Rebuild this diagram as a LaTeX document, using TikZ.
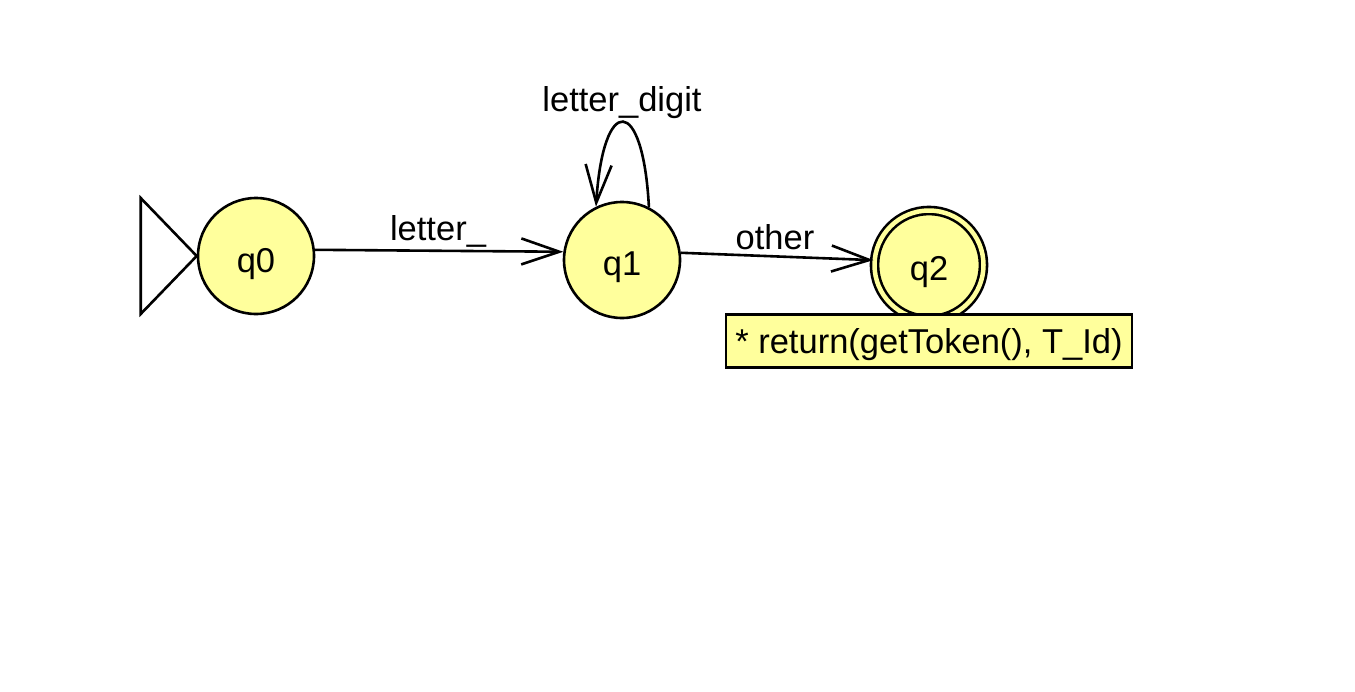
\documentclass[tikz,border=0pt]{standalone}
\usepackage{fontspec}
\setmainfont{Liberation Sans}
\usetikzlibrary{arrows.meta}
\definecolor{stfill}{RGB}{255,255,156}
\newcommand{\dn}[2]{\raisebox{-#1pt}[0pt][0pt]{#2}}
\begin{document}
\begin{tikzpicture}[x=1pt,y=-1pt,
  every node/.style={font=\fontsize{34.5}{40}\selectfont},
  state/.style={circle,draw=black,line width=2.6pt,fill=stfill,minimum size=116pt,inner sep=0pt},
  accepting/.style={double distance=4.5pt,double=stfill,line width=2.6pt,minimum size=109pt},
  edge/.style={line width=2.6pt,-{Straight Barb[length=38pt,width=26pt,line width=2.6pt]}},
  lbl/.style={inner sep=0pt},
  notebox/.style={draw=black,line width=2.6pt,fill=stfill,minimum width=406pt,minimum height=53pt,inner sep=0pt}]
\useasboundingbox (0,0) rectangle (1355,691);
\node[state] (q0) at (256,256) {\dn{16}{q0}};
\node[state] (q1) at (622,260) {\dn{15}{q1}};
\node[state,accepting] (q2) at (929,265) {\dn{15}{q2}};
\node[notebox] (note) at (929,341) {\dn{12}{* return(getToken(), T\_Id)}};
\draw[line width=2.6pt,line join=miter] (q0.west) -- ++(-56,-58) coordinate (ta) -- ++(0,116) coordinate (tb) -- cycle;
\draw[edge] (q0.6) -- (q1.172);
\node[lbl] (l1) at (438,231) {letter\_};
\draw[edge] (q1.7) -- (q2.175);
\node[lbl] (l2) at (775,237) {other};
\draw[edge] (q1.63) .. controls (643,94) and (603,94) .. (q1.116);
\node[lbl] (l3) at (622,103) {letter\_digit};
\end{tikzpicture}
\end{document}
